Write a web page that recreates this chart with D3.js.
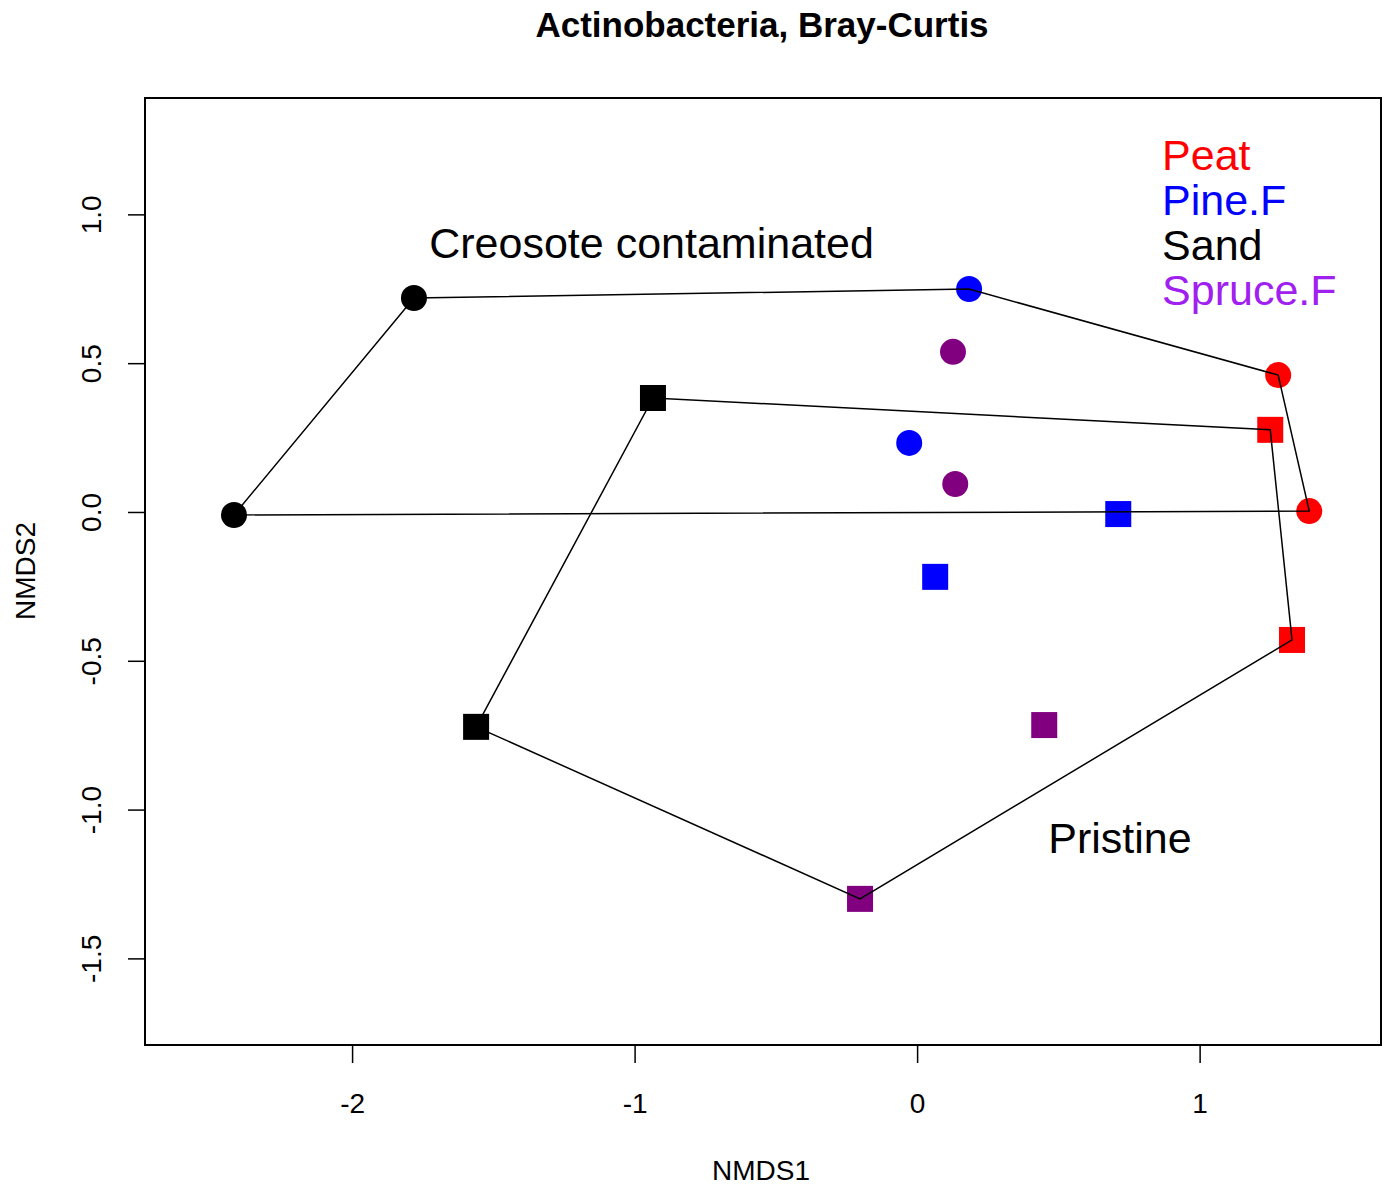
<!DOCTYPE html>
<html>
<head>
<meta charset="utf-8">
<script src="https://cdn.jsdelivr.net/npm/d3@7"></script>
<style>
  body { margin: 0; background: #fff; }
  text { font-family: "Liberation Sans", Arial, sans-serif; }
</style>
</head>
<body>
<svg id="chart"></svg>
<script>
// NMDS scores
const sites = ["Peat", "Peat", "Peat", "Peat", "Pine.F", "Pine.F", "Pine.F", "Pine.F",
               "Sand", "Sand", "Sand", "Sand", "Spruce.F", "Spruce.F", "Spruce.F", "Spruce.F"];
const treatment = ["C", "C", "P", "P", "C", "C", "P", "P",
                   "C", "C", "P", "P", "C", "C", "P", "P"];
const nmds1 = [1.278, 1.388, 1.250, 1.327, 0.184, -0.028, 0.712, 0.064,
               -1.781, -2.418, -0.935, -1.561, 0.127, 0.135, 0.450, -0.202];
const nmds2 = [0.460, 0.003, 0.276, -0.430, 0.749, 0.232, -0.007, -0.218,
               0.719, -0.010, 0.383, -0.722, 0.538, 0.094, -0.716, -1.300];

const legendLabels = ["Peat", "Pine.F", "Sand", "Spruce.F"];
const legendColors = ["#ff0000", "#0000ff", "#000000", "#a020f0"];
const pointColors = ["#ff0000", "#0000ff", "#000000", "#800080"];

const xTicks = [-2, -1, 0, 1];
const yTicks = [-1.5, -1.0, -0.5, 0.0, 0.5, 1.0];

const width = 1386;
const height = 1189;
const box = { left: 145, right: 1381, top: 98, bottom: 1045 };

const svg = d3.select("#chart")
  .attr("width", width)
  .attr("height", height);

const x = d3.scaleLinear().domain([-2.733, 1.642]).range([box.left, box.right]);
const y = d3.scaleLinear().domain([-1.791, 1.391]).range([box.bottom, box.top]);
const color = d3.scaleOrdinal().domain(legendLabels).range(pointColors);

const points = sites.map((s, i) => ({ site: s, grp: treatment[i], x: nmds1[i], y: nmds2[i] }));

// R prints a plain hyphen for negatives
const hy = f => v => f(v).replace("\u2212", "-");

// title
svg.append("text")
  .attr("x", 762).attr("y", 37)
  .attr("text-anchor", "middle")
  .style("font-size", "35px")
  .style("font-weight", "bold")
  .text("Actinobacteria, Bray-Curtis");

// axes
const xAxis = svg.append("g")
  .attr("transform", `translate(0,${box.bottom})`)
  .call(d3.axisBottom(x).tickValues(xTicks).tickSize(18).tickPadding(30).tickFormat(hy(d3.format("d"))));
xAxis.select(".domain").remove();
xAxis.selectAll("line").attr("stroke-width", 1.5);
xAxis.selectAll("text").style("font-size", "28px").attr("fill", "#000");

const yAxis = svg.append("g")
  .attr("transform", `translate(${box.left},0)`)
  .call(d3.axisLeft(y).tickValues(yTicks).tickSize(17).tickFormat(hy(d3.format(".1f"))));
yAxis.select(".domain").remove();
yAxis.selectAll("line").attr("stroke-width", 1.5);
yAxis.selectAll("text")
  .style("font-size", "28px")
  .attr("fill", "#000")
  .attr("x", null).attr("dy", null)
  .attr("text-anchor", "middle")
  .attr("transform", "translate(-44,0) rotate(-90)");

svg.append("text")
  .attr("x", 761).attr("y", 1180)
  .attr("text-anchor", "middle")
  .style("font-size", "28px")
  .text("NMDS1");

svg.append("text")
  .attr("transform", "translate(35,571) rotate(-90)")
  .attr("text-anchor", "middle")
  .style("font-size", "28px")
  .text("NMDS2");

// plot box
svg.append("rect")
  .attr("x", box.left).attr("y", box.top)
  .attr("width", box.right - box.left).attr("height", box.bottom - box.top)
  .attr("fill", "none").attr("stroke", "#000").attr("stroke-width", 2);

// points
const circ = points.filter(d => d.grp === "C");
const sq = points.filter(d => d.grp === "P");

svg.selectAll("circle.pt")
  .data(circ)
  .join("circle")
  .attr("class", "pt")
  .attr("cx", d => x(d.x)).attr("cy", d => y(d.y))
  .attr("r", 13)
  .attr("fill", d => color(d.site));

const s = 26;
svg.selectAll("rect.pt")
  .data(sq)
  .join("rect")
  .attr("class", "pt")
  .attr("x", d => x(d.x) - s / 2).attr("y", d => y(d.y) - s / 2)
  .attr("width", s).attr("height", s)
  .attr("fill", d => color(d.site));

// hulls (ordihull)
[circ, sq].forEach(g => {
  const hull = d3.polygonHull(g.map(d => [x(d.x), y(d.y)]));
  svg.append("path")
    .attr("d", "M" + hull.join("L") + "Z")
    .attr("fill", "none")
    .attr("stroke", "#000")
    .attr("stroke-width", 1.5);
});

// annotations
svg.append("text")
  .attr("x", x(-0.94)).attr("y", y(0.853))
  .attr("text-anchor", "middle")
  .style("font-size", "43px")
  .text("Creosote contaminated");

svg.append("text")
  .attr("x", x(0.718)).attr("y", y(-1.145))
  .attr("text-anchor", "middle")
  .style("font-size", "43px")
  .text("Pristine");

// legend
svg.selectAll("text.leg")
  .data(legendLabels)
  .join("text")
  .attr("class", "leg")
  .attr("x", x(0.867))
  .attr("y", (d, i) => 170 + i * 45)
  .attr("fill", (d, i) => legendColors[i])
  .style("font-size", "43px")
  .text(d => d);
</script>
</body>
</html>
